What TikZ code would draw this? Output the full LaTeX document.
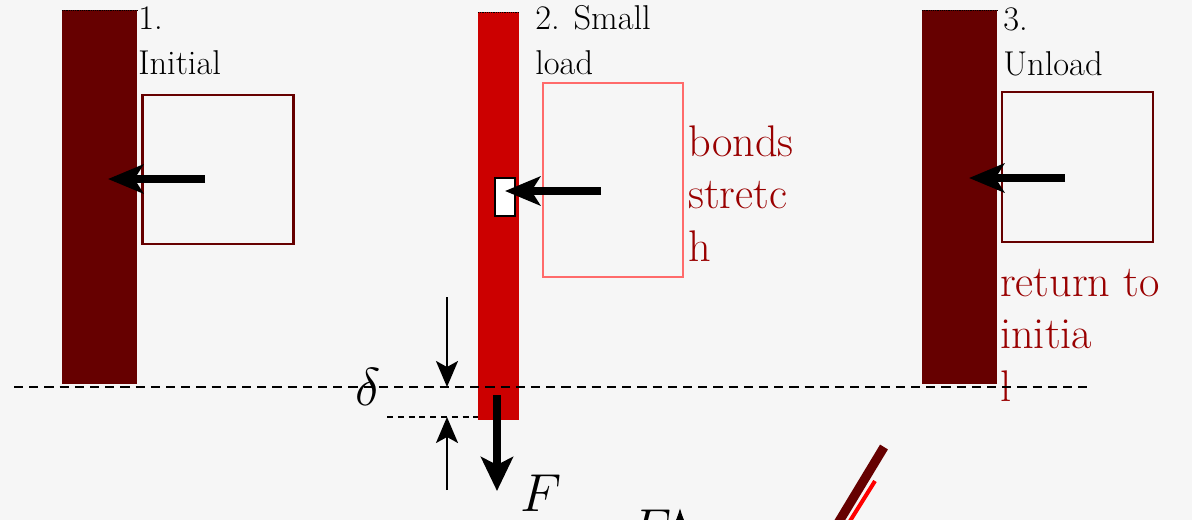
\RequirePackage{fix-cm}
\documentclass[tikz,border=0pt]{standalone}
\usetikzlibrary{arrows.meta}
\definecolor{Maroon}{HTML}{660000}
\definecolor{BarRed}{HTML}{CC0000}
\definecolor{Salmon}{HTML}{FF6B6B}
\definecolor{NoteRed}{HTML}{990000}
\definecolor{Paper}{HTML}{F6F6F6}

\begin{document}
\begin{tikzpicture}[x=0.025cm,y=-0.025cm,
      stage/.style={anchor=north west,inner sep=0pt,align=left,
                    font=\fontsize{24.5}{32}\selectfont},
      note/.style={anchor=north west,inner sep=0pt,align=left,text=NoteRed,
                   font=\fontsize{31.5}{37.3}\selectfont},
      bar/.style={inner sep=0pt,outer sep=0pt},
      cell/.style={draw,line width=0.06cm,inner sep=0pt,outer sep=0pt},
      push/.style={-{Stealth[length=0.88cm,width=0.72cm,inset=0.22cm]},
                   line width=0.2cm},
      gauge/.style={-{Stealth[length=0.65cm,width=0.55cm,inset=0.15cm]},
                    line width=0.05cm},
      big/.style={font=\fontsize{38}{40}\selectfont}
    ]
      \useasboundingbox (0,0) rectangle (1192,520);
      \fill[Paper] (0,0) rectangle (1192,520);
      \clip (0,0) rectangle (1192,520);

      % the three rods
      \node[bar,fill=Maroon,minimum width=1.875cm,minimum height=9.35cm] (bar1) at (99.5,197) {};
      \node[bar,fill=BarRed,minimum width=1.025cm,minimum height=10.2cm] (bar2) at (498.5,216) {};
      \node[bar,fill=Maroon,minimum width=1.875cm,minimum height=9.35cm] (bar3) at (959.5,197) {};
      \foreach \rod in {bar1,bar2,bar3}
        \draw[densely dotted,line width=0.3pt] (\rod.north west) -- (\rod.north east);

      % stage captions
      \node[stage] (cap1) at (138,6) {1.\\Initial};
      \node[stage] (cap2) at (535,5) {2. Small\\load};
      \node[stage] (cap3) at (1003,7) {3.\\Unload};

      % zoom boxes
      \node[cell,draw=Maroon,minimum width=3.775cm,minimum height=3.725cm] (box1) at (218,169.5) {};
      \node[cell,draw=Salmon,minimum width=3.5cm,minimum height=4.85cm] (box2) at (613,180) {};
      \node[cell,draw=Maroon,minimum width=3.775cm,minimum height=3.75cm] (box3) at (1077.5,167) {};
      \node[draw,fill=white,line width=0.05cm,inner sep=0pt,
            minimum width=0.5cm,minimum height=0.97cm] (bond) at (504.5,197) {};

      \node[note] (stretch) at (688,125.5) {bonds\\stretc\\h};
      \node[note] (back) at (1000,269) {return to\\initia\\l};

      % force arrows
      \coordinate (tail1) at (205,179);
      \coordinate (tip1) at (108,179);
      \coordinate (tail2) at (601,191);
      \coordinate (tip2) at (505,191);
      \coordinate (tail3) at (1065,178);
      \coordinate (tip3) at (969,178);
      \draw[push] (tail1) -- (tip1);
      \draw[push] (tail2) -- (tip2);
      \draw[push] (tail3) -- (tip3);

      % elongation
      \coordinate (rest) at (14,387);
      \coordinate (restEnd) at (1087,387);
      \draw[dash pattern=on 0.23cm off 0.15cm,line width=0.05cm] (rest) -- (restEnd);
      \coordinate (strained) at (387,417);
      \draw[dash pattern=on 0.15cm off 0.12cm,line width=0.05cm] (strained) -- (strained -| bar2.west);
      \coordinate (upTop) at (447,297);
      \coordinate (upTip) at (447,387);
      \coordinate (dnBot) at (447,490);
      \coordinate (dnTip) at (447,417);
      \draw[gauge] (upTop) -- (upTip);
      \draw[gauge] (dnBot) -- (dnTip);
      \node[big] (delta) at (368,387) {$\delta$};

      \coordinate (load) at (497,395);
      \coordinate (loadTip) at (497,491);
      \draw[-{Stealth[length=0.85cm,width=0.8cm,inset=0.2cm]},line width=0.18cm]
        (load) -- (loadTip);
      \node[big] (force) at (541,493) {$F$};

      % graph below, cut off by the frame
      \node[big,anchor=north west,inner sep=0pt] (axisF) at (630,510) {$F$};
      \coordinate (axisBot) at (680,580);
      \coordinate (axisTop) at (680,508);
      \draw[-{Latex[length=0.5cm,width=0.4cm]},line width=0.05cm] (axisBot) -- (axisTop);
      \coordinate (lin1) at (884,447);
      \coordinate (lin2) at (826,543);
      \coordinate (nl1) at (875,481);
      \coordinate (nl2) at (835,545);
      \draw[red,line width=0.1cm] (nl1) -- (nl2);
      \draw[Maroon,line width=0.23cm] (lin1) -- (lin2);
    \end{tikzpicture}
\end{document}
